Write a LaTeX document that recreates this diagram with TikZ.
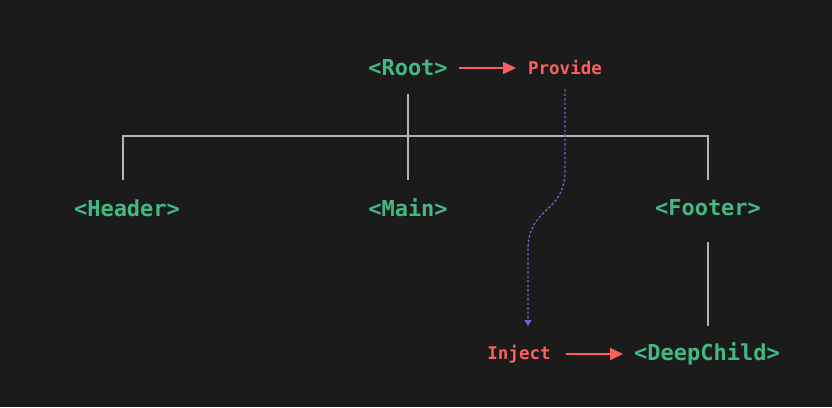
\documentclass[tikz,border=0pt]{standalone}
\usepackage{fontspec}
\setmonofont{DejaVu Sans Mono}
\usetikzlibrary{arrows.meta}
\definecolor{bg}{HTML}{1B1B1B}
\definecolor{vgreen}{HTML}{42B883}
\definecolor{vred}{HTML}{FA6060}
\definecolor{vpurple}{HTML}{7E5BC8}
\definecolor{vline}{HTML}{B4B4B4}
\tikzset{
  comp/.style={text=vgreen, font=\ttfamily\bfseries\fontsize{22}{25}\selectfont, inner sep=0pt},
  act/.style={text=vred, font=\ttfamily\bfseries\fontsize{17.5}{20}\selectfont, inner sep=0pt},
  tree/.style={draw=vline, line width=1.1pt},
  redarrow/.style={draw=vred, line width=2pt, -{Triangle[length=13pt,width=12pt]}},
  flow/.style={draw=vpurple, line width=1.3pt, dash pattern=on 2.5pt off 2pt, -{Triangle[length=6pt,width=7pt]}}
}
\begin{document}
\begin{tikzpicture}[x=1pt,y=-1pt]
\fill[bg] (0,0) rectangle (832,407);
\useasboundingbox (0,0) rectangle (832,407);
\node[comp] (root) at (408,68) {<Root>};
\node[act] (provide) at (565,68) {Provide};
\node[comp] (header) at (127,208) {<Header>};
\node[comp] (main) at (408,208) {<Main>};
\node[comp] (footer) at (708,208) {<Footer>};
\node[act] (inject) at (519,354) {Inject};
\node[comp] (deep) at (707,354) {<DeepChild>};
\coordinate (rootb) at (408,94);
\coordinate (maint) at (408,180);
\coordinate (headt) at (123,180);
\coordinate (foott) at (708,180);
\coordinate (footb) at (708,242);
\coordinate (deept) at (708,326);
\coordinate (hl) at (123,136);
\coordinate (hr) at (708,136);
\coordinate (provb) at (565,89);
\coordinate (injt) at (528,326);
\coordinate (ra1) at (459,68);
\coordinate (ra2) at (516,68);
\coordinate (ia1) at (566,354);
\coordinate (ia2) at (623,354);
\draw[tree] (rootb) -- (maint);
\draw[tree] (headt) -- (hl) -- (hr) -- (foott);
\draw[tree] (footb) -- (deept);
\draw[redarrow] (ra1) -- (ra2);
\draw[redarrow] (ia1) -- (ia2);
\draw[flow] (provb) -- (565,170) .. controls (565,215) and (528,205) .. (528,250) -- (injt);
\end{tikzpicture}
\end{document}
